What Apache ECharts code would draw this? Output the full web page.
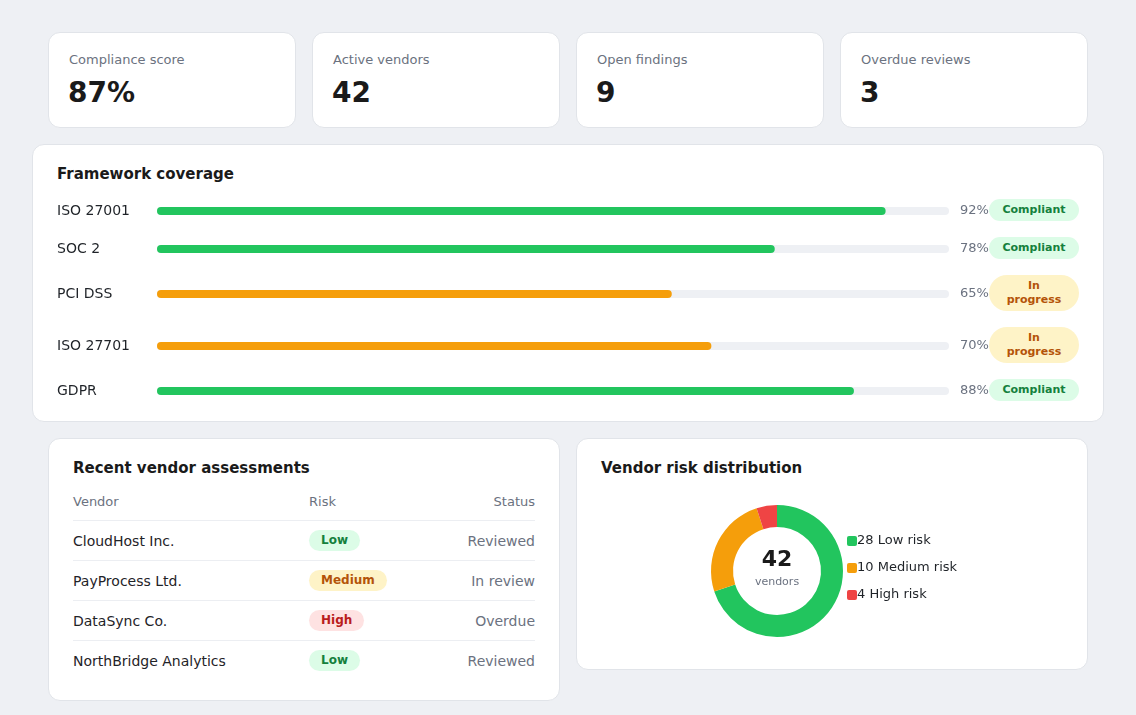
<!DOCTYPE html>
<html>
<head>
<meta charset="utf-8">
<script src="https://cdn.jsdelivr.net/npm/echarts@6/dist/echarts.min.js"></script>
<style>
  html,body{margin:0;padding:0;width:1136px;height:715px;background:#eef0f4;overflow:hidden;
    font-family:"DejaVu Sans",sans-serif;color:#1f2328;}
  .card{position:absolute;background:#fff;border:1px solid #e1e4e9;border-radius:12px;box-sizing:border-box;}
  .abs{position:absolute;white-space:nowrap;}
  .kpi-label{font-size:13px;color:#6b7280;line-height:16px;}
  .kpi-value{font-size:28px;font-weight:bold;color:#1a1a1a;line-height:34px;}
  .title{font-size:15px;font-weight:bold;color:#1a1a1a;line-height:20px;}
  .badge{position:absolute;box-sizing:border-box;border-radius:999px;font-weight:bold;text-align:center;white-space:normal;}
  .cov-badge{width:90px;padding:4px 12px;font-size:11px;line-height:14px;}
  .ok{background:#dcfce7;color:#15803d;}
  .warn{background:#fef3c7;color:#b45309;}
  .bad{background:#fee2e2;color:#b91c1c;}
  .risk-badge{padding:3px 12px;font-size:12px;line-height:15px;white-space:nowrap;}
  .th{font-size:13px;color:#6b7280;line-height:16px;}
  .td{font-size:14px;line-height:18px;}
  .sep{position:absolute;height:1px;background:#eceef2;}
  .chart{position:absolute;}
</style>
</head>
<body>
<div id="root"></div>
<div id="cov" class="chart" style="left:32px;top:145px;width:1072px;height:278px;z-index:2;"></div>
<div id="donut" class="chart" style="left:576px;top:438px;width:512px;height:232px;z-index:2;"></div>
<script>
// ---- data ----
const kpiLabels = ['Compliance score', 'Active vendors', 'Open findings', 'Overdue reviews'];
const kpiValues = ['87%', '42', '9', '3'];

const frameworks = ['ISO 27001', 'SOC 2', 'PCI DSS', 'ISO 27701', 'GDPR'];
const coverage = [92, 78, 65, 70, 88];
const frameworkStatus = ['Compliant', 'Compliant', 'In progress', 'In progress', 'Compliant'];

const vendors = ['CloudHost Inc.', 'PayProcess Ltd.', 'DataSync Co.', 'NorthBridge Analytics'];
const vendorRisk = ['Low', 'Medium', 'High', 'Low'];
const vendorStatus = ['Reviewed', 'In review', 'Overdue', 'Reviewed'];

const riskLabels = ['Low risk', 'Medium risk', 'High risk'];
const riskCounts = [28, 10, 4];
const riskShare = [70, 25, 5]; // arc sizes as drawn in the ring (%)
const totalVendors = 42;

// ---- layout ----
const root = document.getElementById('root');
function el(tag, cls, style, text) {
  const e = document.createElement(tag);
  if (cls) e.className = cls;
  if (style) e.style.cssText = style;
  if (text !== undefined) e.textContent = text;
  root.appendChild(e);
  return e;
}
const GREEN = '#22c55e', ORANGE = '#f59e0b', RED = '#ef4444';

// KPI cards
kpiLabels.forEach((lab, i) => {
  const x = 48 + i * 264;
  el('div', 'card', `left:${x}px;top:32px;width:248px;height:96px;`);
  el('div', 'abs kpi-label', `left:${x + 21}px;top:52px;`, lab);
  el('div', 'abs kpi-value', `left:${x + 20}px;top:76px;`, kpiValues[i]);
});

// Framework coverage panel
el('div', 'card', 'left:32px;top:144px;width:1072px;height:278px;');
el('div', 'abs title', 'left:57px;top:164px;', 'Framework coverage');
const rowCenters = [210, 248, 293, 345, 390];
frameworkStatus.forEach((s, i) => {
  const ok = s === 'Compliant';
  const h = ok ? 22 : 36;
  el('div', 'badge cov-badge ' + (ok ? 'ok' : 'warn'), `left:989px;top:${rowCenters[i] - h / 2}px;`, s);
});

// Vendor table panel
el('div', 'card', 'left:48px;top:438px;width:512px;height:263px;');
el('div', 'abs title', 'left:73px;top:458px;', 'Recent vendor assessments');
el('div', 'abs th', 'left:73px;top:494px;', 'Vendor');
el('div', 'abs th', 'left:309px;top:494px;', 'Risk');
el('div', 'abs th', 'right:601px;top:494px;', 'Status');
vendors.forEach((v, i) => {
  const yc = 540 + i * 40;
  el('div', 'sep', `left:73px;width:462px;top:${yc - 20}px;`);
  el('div', 'abs td', `left:73px;top:${yc - 8}px;color:#1f2328;`, v);
  const r = vendorRisk[i];
  const cls = r === 'Low' ? 'ok' : (r === 'Medium' ? 'warn' : 'bad');
  el('div', 'badge risk-badge ' + cls, `left:309px;top:${yc - 10}px;`, r);
  el('div', 'abs td', `right:601px;top:${yc - 8}px;color:#6b7280;`, vendorStatus[i]);
});

// Risk distribution panel
el('div', 'card', 'left:576px;top:438px;width:512px;height:232px;');
el('div', 'abs title', 'left:601px;top:458px;', 'Vendor risk distribution');

// ---- coverage bars (ECharts) ----
const FONT = 'DejaVu Sans';
const cov = echarts.init(document.getElementById('cov'), null, {renderer: 'canvas'});
const grids = [], xAxes = [], yAxes = [], series = [];
frameworks.forEach((name, i) => {
  const yc = rowCenters[i] - 144;
  grids.push({left: 125, right: 155, top: yc - 10, height: 20});
  xAxes.push({type: 'value', gridIndex: i, min: 0, max: 100, show: false});
  yAxes.push({
    type: 'category', gridIndex: i, data: [name],
    axisLine: {show: false}, axisTick: {show: false}, splitLine: {show: false},
    axisLabel: {align: 'left', margin: 100, fontSize: 14, color: '#1f2328', fontFamily: FONT}
  });
  const color = frameworkStatus[i] === 'Compliant' ? GREEN : ORANGE;
  series.push({
    type: 'bar', xAxisIndex: i, yAxisIndex: i, data: [100], barWidth: 8, silent: true,
    itemStyle: {color: '#eef0f4', borderRadius: 4},
    label: {show: true, position: 'right', distance: 11, fontSize: 13, color: '#6b7280', fontFamily: FONT,
      formatter: () => coverage[i] + '%'}
  });
  series.push({
    type: 'bar', xAxisIndex: i, yAxisIndex: i, data: [coverage[i]], barWidth: 8, barGap: '-100%', silent: true,
    itemStyle: {color: color, borderRadius: 4}
  });
});
cov.setOption({animation: false, grid: grids, xAxis: xAxes, yAxis: yAxes, series: series});

// ---- donut (ECharts) ----
const donut = echarts.init(document.getElementById('donut'), null, {renderer: 'canvas'});
const riskColors = [GREEN, ORANGE, RED];
const rich = {t: {fontSize: 13, color: '#1f2328', fontFamily: FONT, lineHeight: 16}};
riskColors.forEach((c, i) => {
  rich['s' + i] = {width: 10, height: 10, backgroundColor: c, borderRadius: 2};
});
donut.setOption({
  animation: false,
  color: riskColors,
  legend: {
    orient: 'vertical', left: 266, top: 95, padding: 0, itemWidth: 0, itemHeight: 10, itemGap: 11,
    icon: 'none', selectedMode: false,
    textStyle: {fontSize: 13, color: '#1f2328', fontFamily: FONT, lineHeight: 16, rich: rich},
    formatter: name => {
      const i = riskLabels.indexOf(name);
      return '{s' + i + '|}{t|' + riskCounts[i] + ' ' + name + '}';
    },
    data: riskLabels
  },
  graphic: [
    {type: 'text', x: 201, y: 122, style: {text: String(totalVendors), fontSize: 22, fontWeight: 'bold',
      fill: '#1a1a1a', fontFamily: FONT, textAlign: 'center', textVerticalAlign: 'middle'}},
    {type: 'text', x: 201, y: 144, style: {text: 'vendors', fontSize: 11,
      fill: '#6b7280', fontFamily: FONT, textAlign: 'center', textVerticalAlign: 'middle'}}
  ],
  series: [{
    type: 'pie', radius: [44, 66], center: [201, 133], startAngle: 90, clockwise: true,
    silent: true, label: {show: false}, labelLine: {show: false},
    data: riskLabels.map((n, i) => ({name: n, value: riskShare[i]}))
  }]
});
</script>
</body>
</html>
